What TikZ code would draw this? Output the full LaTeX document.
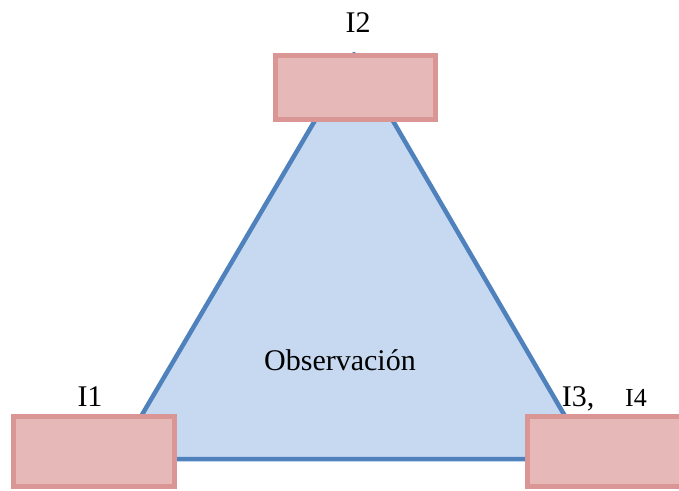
\documentclass[tikz,border=0pt]{standalone}
\usepackage{fontspec}
\setmainfont{Liberation Serif}
\definecolor{triblue}{RGB}{79,129,189}
\definecolor{trifill}{RGB}{198,217,240}
\definecolor{boxedge}{RGB}{217,150,148}
\definecolor{boxfill}{RGB}{230,185,184}

\begin{document}
\begin{tikzpicture}[x=1pt,y=-1pt,
  box/.style={rectangle,draw=boxedge,fill=boxfill,line width=5pt,inner sep=0pt,
    minimum width=161pt,minimum height=70pt},
  lbl/.style={anchor=base,inner sep=0pt,font=\fontsize{30}{36}\selectfont}]
  \useasboundingbox (0,0) rectangle (679,490);

  \coordinate (t1) at (116,459);
  \coordinate (t2) at (354,54);
  \coordinate (t3) at (590,459);

  \draw[triblue,fill=trifill,line width=4.5pt,line join=round] (t1) -- (t2) -- (t3) -- cycle;

  \node (b2) [box,minimum width=160pt,minimum height=64pt] at (355.5,87.5) {};
  \node (b1) [box] at (94,451) {};
  \node (b3) [box] at (608,451) {};

  \node (l2) [lbl] at (358,32) {I2};
  \node (l1) [lbl] at (90,406) {I1};
  \node (l3) [lbl] at (578,406) {I3,};
  \node (l4) [lbl,font=\fontsize{26}{31}\selectfont] at (636,406) {I4};
  \node (obs) [lbl] at (340,370) {Observación};
\end{tikzpicture}
\end{document}
